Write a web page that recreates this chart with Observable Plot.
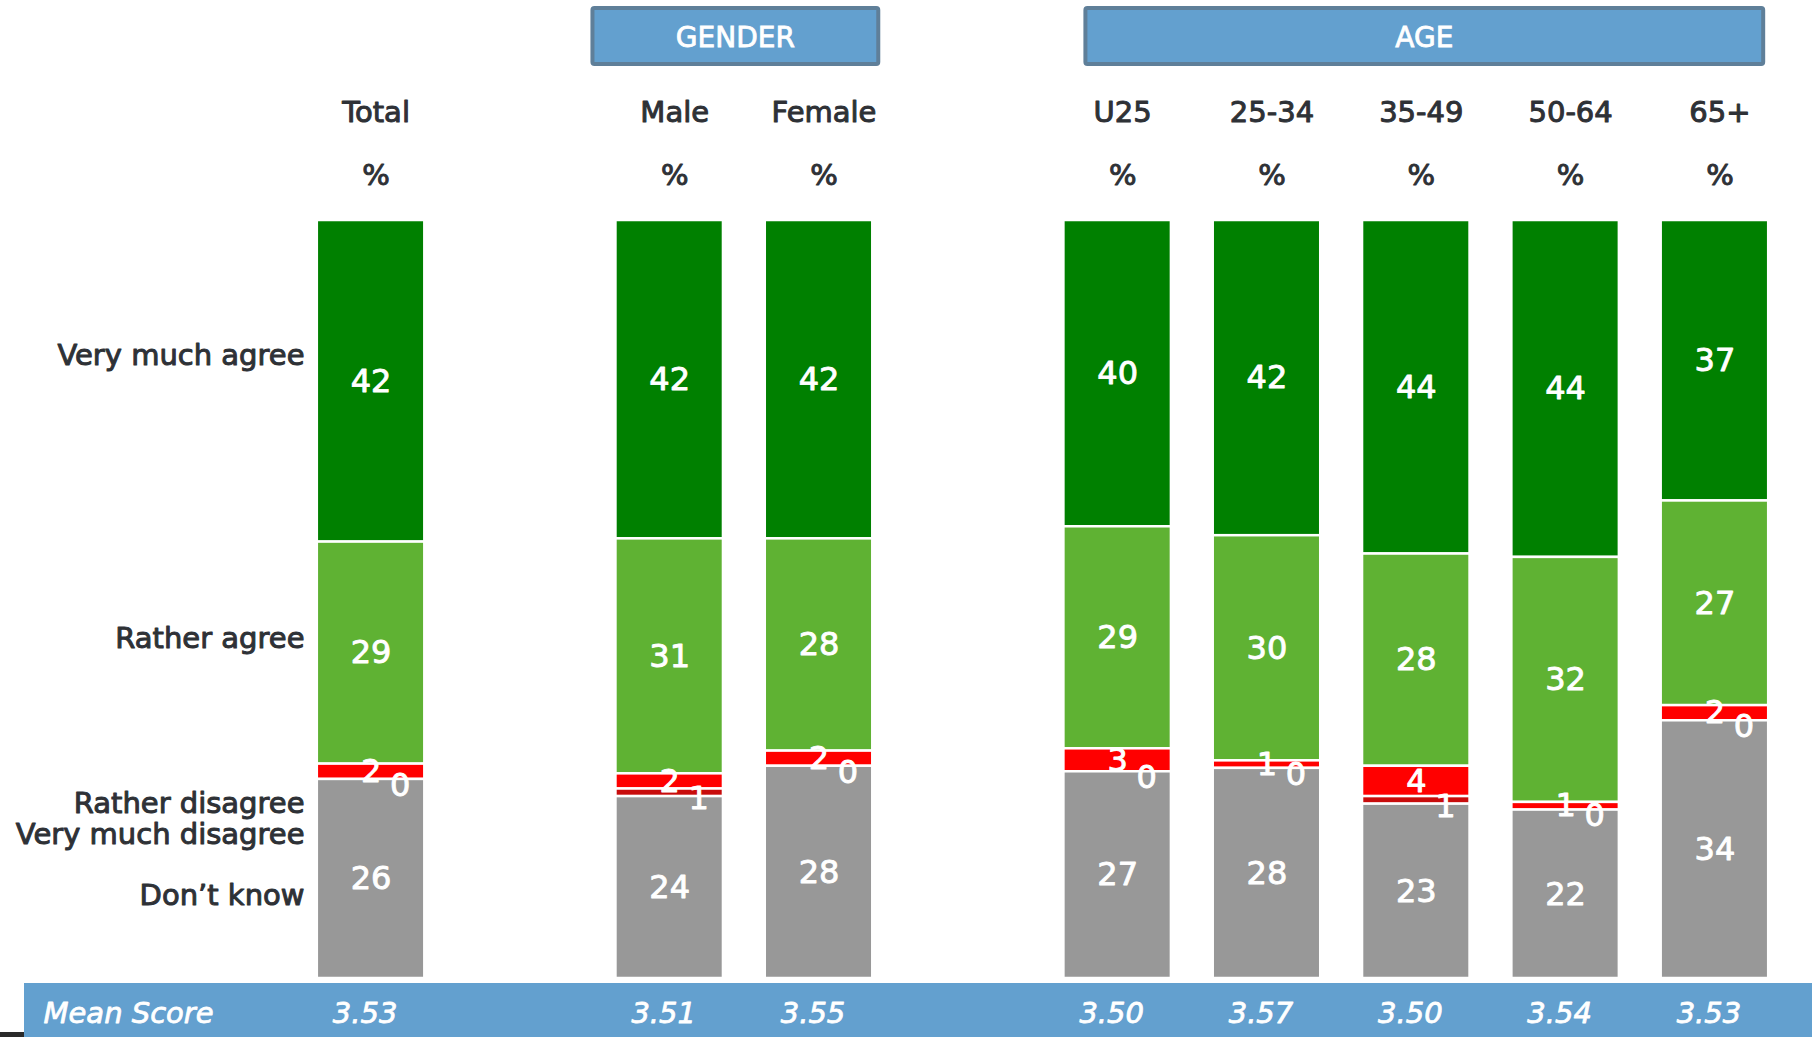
<!DOCTYPE html>
<html>
<head>
<meta charset="utf-8">
<script src="https://cdn.jsdelivr.net/npm/d3@7"></script>
<script src="https://cdn.jsdelivr.net/npm/@observablehq/plot@0.6"></script>
<style>
  html, body { margin: 0; padding: 0; background: #ffffff; }
  #chart svg { overflow: visible; display: block; }
</style>
</head>
<body>
<div id="chart"></div>
<script>
// ---------- data ----------
const groups = ["Total", "Male", "Female", "U25", "25-34", "35-49", "50-64", "65+"];
const slots = ["Total", "gap1", "Male", "Female", "gap2", "U25", "25-34", "35-49", "50-64", "65+"];
const answers = ["Very much agree", "Rather agree", "Rather disagree", "Very much disagree", "Don’t know"];
const veryMuchAgree    = [42, 42, 42, 40, 42, 44, 44, 37];
const ratherAgree      = [29, 31, 28, 29, 30, 28, 32, 27];
const ratherDisagree   = [2, 2, 2, 3, 1, 4, 1, 2];
const veryMuchDisagree = [0, 1, 0, 0, 0, 1, 0, 0];
const dontKnow         = [26, 24, 28, 27, 28, 23, 22, 34];
const meanScores = ["3.53", "3.51", "3.55", "3.50", "3.57", "3.50", "3.54", "3.53"];
const headerGroups = [
  {label: "GENDER", from: "Male", to: "Female"},
  {label: "AGE", from: "U25", to: "65+"}
];

// ---------- styles / layout ----------
const colors = ["#008000", "#5fb233", "#ff0000", "#c80c0c", "#989898"];
const textColor = "#2e3136";
const bandColor = "#63a0cf";
const boxStroke = "#5f7f99";
const FONT = "DejaVu Sans, Verdana, sans-serif";
const labelOffsets = [135, 418, 583, 614, 675];        // left legend labels, px below plot top
const headerPad = {GENDER: [-25, 8], AGE: [20, -3]};    // box edge offsets vs. bands

const seriesValues = [veryMuchAgree, ratherAgree, ratherDisagree, veryMuchDisagree, dontKnow];
const table = [];
groups.forEach((g, i) => {
  answers.forEach((a, j) => table.push({group: g, answer: a, value: seriesValues[j][i]}));
});
const stackOrder = answers.slice().reverse(); // bottom → top
const VMD = "Very much disagree";

const stackOpts = {x: "group", y: "value", z: "answer", order: stackOrder, offset: "normalize"};

function headerBoxes(index, scales, values, dimensions) {
  const x = scales.x;
  const bw = x.bandwidth ? x.bandwidth() : 0;
  const g = d3.create("svg:g");
  for (const h of headerGroups) {
    const [pl, pr] = headerPad[h.label];
    const x1 = x(h.from) + pl;
    const x2 = x(h.to) + bw + pr;
    g.append("rect")
      .attr("x", x1 + 2).attr("y", 8)
      .attr("width", x2 - x1 - 4).attr("height", 56)
      .attr("rx", 2)
      .attr("fill", bandColor)
      .attr("stroke", boxStroke)
      .attr("stroke-width", 4);
    g.append("text")
      .attr("x", (x1 + x2) / 2).attr("y", 37)
      .attr("dy", "0.36em")
      .attr("text-anchor", "middle")
      .attr("fill", "white")
      .attr("stroke", "white").attr("stroke-width", 0.8)
      .attr("font-family", FONT)
      .attr("font-size", 28)
      .text(h.label);
  }
  return g.node();
}

function meanBand(index, scales, values, dimensions) {
  const {width, height} = dimensions;
  const g = d3.create("svg:g");
  g.append("rect")
    .attr("x", 24).attr("y", height - 54)
    .attr("width", width - 24).attr("height", 54)
    .attr("fill", bandColor);
  g.append("rect")
    .attr("x", 0).attr("y", height - 5)
    .attr("width", 24).attr("height", 5)
    .attr("fill", "#2a2a2a");
  return g.node();
}

const leftLabels = answers.map((a, i) =>
  Plot.text([a], {
    text: d => d,
    frameAnchor: "top-left",
    dx: 29,
    dy: labelOffsets[i],
    textAnchor: "end",
    lineAnchor: "middle",
    fontSize: 29,
    fill: textColor,
    stroke: textColor,
    strokeWidth: 1,
    fontFamily: FONT
  })
);

const chart = Plot.plot({
  width: 1812,
  height: 1037,
  marginTop: 220,
  marginBottom: 59,
  marginLeft: 275,
  marginRight: 2,
  style: {fontFamily: FONT, background: "white", overflow: "visible"},
  x: {domain: slots, padding: 0.28, round: false, axis: null},
  y: {domain: [0, 1], axis: null},
  color: {domain: answers, range: colors},
  marks: [
    meanBand,
    headerBoxes,
    Plot.barY(table, Plot.stackY({
      ...stackOpts,
      fill: "answer",
      stroke: "white",
      strokeWidth: 2.5
    })),
    Plot.text(table, Plot.stackY({
      ...stackOpts,
      text: d => (d.answer === VMD ? null : String(d.value)),
      fill: "white",
      stroke: "white",
      strokeWidth: 0.9,
      fontSize: 32,
      lineAnchor: "middle",
      fontFamily: FONT
    })),
    Plot.text(table, Plot.stackY({
      ...stackOpts,
      text: d => (d.answer === VMD ? String(d.value) : null),
      fill: "white",
      stroke: "white",
      strokeWidth: 0.9,
      fontSize: 32,
      dx: 29,
      dy: 6,
      lineAnchor: "middle",
      fontFamily: FONT
    })),
    Plot.text(groups, {
      x: d => d, text: d => d,
      frameAnchor: "top", dy: -108, dx: 5,
      lineAnchor: "middle",
      fontSize: 29, fill: textColor, stroke: textColor, strokeWidth: 1
    }),
    Plot.text(groups, {
      x: d => d, text: () => "%",
      frameAnchor: "top", dy: -45, dx: 5,
      lineAnchor: "middle",
      fontSize: 29, fill: textColor, stroke: textColor, strokeWidth: 1
    }),
    ...leftLabels,
    Plot.text(groups.map((g, i) => ({group: g, mean: meanScores[i]})), {
      x: "group", text: "mean",
      frameAnchor: "bottom", dy: 35, dx: -6,
      lineAnchor: "middle",
      fontSize: 29, fontStyle: "italic",
      fill: "white", stroke: "white", strokeWidth: 0.8
    }),
    Plot.text(["Mean Score"], {
      text: d => d,
      frameAnchor: "bottom-left", dx: -232, dy: 35,
      textAnchor: "start", lineAnchor: "middle",
      fontSize: 29, fontStyle: "italic",
      fill: "white", stroke: "white", strokeWidth: 0.8
    })
  ]
});

document.getElementById("chart").appendChild(chart);
</script>
</body>
</html>
